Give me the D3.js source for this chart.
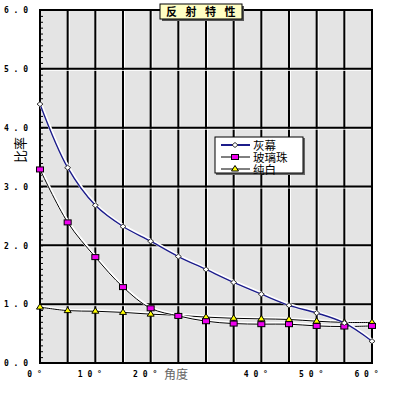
<!DOCTYPE html>
<html>
<head>
<meta charset="utf-8">
<script src="https://cdn.jsdelivr.net/npm/d3@7"></script>
<style>
  body { margin: 0; background: #fff; }
  svg { display: block; }
  .tick text { font-family: "DejaVu Sans Mono", monospace; font-weight: bold; font-size: 8px; fill: #000; }
</style>
</head>
<body>
<svg id="c" width="394" height="406"></svg>
<script>
// angle of incidence (degrees)
const angles = [0, 5, 10, 15, 20, 25, 30, 35, 40, 45, 50, 55, 60];
// gain ratio per screen type
const greyScreen = [4.40, 3.32, 2.68, 2.32, 2.07, 1.81, 1.59, 1.37, 1.17, 0.98, 0.85, 0.68, 0.37];
const glassBeads = [3.29, 2.39, 1.80, 1.29, 0.93, 0.80, 0.71, 0.67, 0.66, 0.66, 0.63, 0.62, 0.63];
const pureWhite  = [0.95, 0.89, 0.88, 0.86, 0.83, 0.81, 0.78, 0.76, 0.75, 0.74, 0.71, 0.69, 0.69];
const seriesNames = ["灰幕", "玻璃珠", "纯白"];
const yTicks = [0, 1, 2, 3, 4, 5, 6];
const xTicks = [0, 10, 20, 40, 50, 60];   // 30° slot holds the axis title

const svg = d3.select("#c");
const x = d3.scaleLinear().domain([0, 60]).range([40, 372]);
const y = d3.scaleLinear().domain([0, 6]).range([363, 10]);

// plot background
svg.append("rect")
  .attr("x", x(0)).attr("y", y(6))
  .attr("width", x(60) - x(0)).attr("height", y(0) - y(6))
  .attr("fill", "#e4e4e4");

// grid: black line with white highlight
const grid = svg.append("g");
d3.range(5, 60, 5).forEach(v => {
  grid.append("line").attr("x1", x(v) + 1.5).attr("x2", x(v) + 1.5)
    .attr("y1", y(6)).attr("y2", y(0)).attr("stroke", "#fff").attr("stroke-width", 1);
  grid.append("line").attr("x1", x(v)).attr("x2", x(v))
    .attr("y1", y(6)).attr("y2", y(0)).attr("stroke", "#000").attr("stroke-width", 2);
});
d3.range(1, 6).forEach(v => {
  grid.append("line").attr("y1", y(v) + 1.5).attr("y2", y(v) + 1.5)
    .attr("x1", x(0)).attr("x2", x(60)).attr("stroke", "#fff").attr("stroke-width", 1);
  grid.append("line").attr("y1", y(v)).attr("y2", y(v))
    .attr("x1", x(0)).attr("x2", x(60)).attr("stroke", "#000").attr("stroke-width", 2);
});

// frame
svg.append("rect")
  .attr("x", x(0)).attr("y", y(6))
  .attr("width", x(60) - x(0)).attr("height", y(0) - y(6))
  .attr("fill", "none").attr("stroke", "#000").attr("stroke-width", 2);

// minor ticks on y axis (inside)
svg.append("g")
  .attr("transform", `translate(${x(0)},0)`)
  .call(d3.axisRight(y).tickValues(d3.range(0, 6.001, 0.1)).tickSize(3).tickFormat(""))
  .call(g => g.select(".domain").remove())
  .selectAll("line").attr("stroke", "#000");

// y tick labels
svg.append("g")
  .attr("transform", `translate(${x(0) - 12},0)`)
  .call(d3.axisLeft(y).tickValues(yTicks).tickSize(0).tickPadding(0).tickFormat(d => d3.format(".1f")(d).split("").join(" ")))
  .call(g => g.select(".domain").remove())
  .selectAll("text").attr("xml:space", "preserve").attr("dy", "0.35em");

// x tick labels
svg.append("g")
  .attr("transform", `translate(-6,${y(0) + 8})`)
  .call(d3.axisBottom(x).tickValues(xTicks).tickSize(0).tickPadding(0).tickFormat(d => String(d).split("").join(" ") + " °"))
  .call(g => g.select(".domain").remove())
  .selectAll("text").attr("xml:space", "preserve");

// axis titles
svg.append("text").attr("x", 176).attr("y", 379)
  .attr("text-anchor", "middle")
  .attr("font-family", "Noto Sans CJK SC").attr("font-size", 12).attr("fill", "#666")
  .text("角度");
svg.append("text").attr("transform", "translate(25,150) rotate(-90)")
  .attr("text-anchor", "middle")
  .attr("font-family", "Noto Sans CJK SC").attr("font-size", 13).attr("fill", "#000")
  .text("比率");

// series
const line = d3.line().x(d => x(d[0])).y(d => y(d[1])).curve(d3.curveCatmullRom);
const series = [
  { name: seriesNames[0], values: greyScreen, color: "#1c1c8a", width: 1.4, marker: "diamond" },
  { name: seriesNames[1], values: glassBeads, color: "#000", width: 1, marker: "rect" },
  { name: seriesNames[2], values: pureWhite, color: "#000", width: 1, marker: "tri" }
];

function drawMarker(g, type, cx, cy) {
  if (type === "diamond") {
    g.append("path").attr("d", `M${cx - 3},${cy} L${cx},${cy - 2.5} L${cx + 3},${cy} L${cx},${cy + 2.5} Z`)
      .attr("fill", "#fff").attr("stroke", "#333").attr("stroke-width", 1);
  } else if (type === "rect") {
    g.append("rect").attr("x", cx - 3.5).attr("y", cy - 2.5).attr("width", 7).attr("height", 5)
      .attr("fill", "#ee00ee").attr("stroke", "#000").attr("stroke-width", 1);
  } else {
    g.append("path").attr("d", `M${cx - 3.5},${cy + 2} L${cx},${cy - 3.5} L${cx + 3.5},${cy + 2} Z`)
      .attr("fill", "#ffff00").attr("stroke", "#000").attr("stroke-width", 1);
  }
}

// draw lines bottom-up, then markers
const lines = svg.append("g");
const marks = svg.append("g");
series.slice().reverse().forEach(s => {
  const pts = angles.map((a, i) => [a, s.values[i]]);
  lines.append("path").attr("d", line(pts)).attr("fill", "none")
    .attr("stroke", "#fff").attr("stroke-width", s.width + 2).attr("transform", "translate(0.5,-0.5)");
  lines.append("path").attr("d", line(pts)).attr("fill", "none")
    .attr("stroke", s.color).attr("stroke-width", s.width);
  pts.forEach(p => drawMarker(marks, s.marker, x(p[0]), y(p[1])));
});

// title box
const tg = svg.append("g");
tg.append("rect").attr("x", 162).attr("y", 6).attr("width", 82).attr("height", 15).attr("fill", "#555");
tg.append("rect").attr("x", 160).attr("y", 4).attr("width", 82).attr("height", 15)
  .attr("fill", "#ffffc4").attr("stroke", "#000").attr("stroke-width", 1);
tg.append("text").attr("x", 166).attr("y", 16)
  .attr("font-family", "Noto Sans CJK SC").attr("font-weight", "bold").attr("font-size", 11)
  .attr("letter-spacing", "8.5px")
  .text("反射特性");

// legend
const lg = svg.append("g");
lg.append("rect").attr("x", 216).attr("y", 138).attr("width", 89).attr("height", 37).attr("fill", "#666");
lg.append("rect").attr("x", 215).attr("y", 137).attr("width", 88).attr("height", 36)
  .attr("fill", "#fff").attr("stroke", "#000").attr("stroke-width", 1);
series.forEach((s, i) => {
  const ly = 145 + i * 12;
  lg.append("line").attr("x1", 221).attr("x2", 250).attr("y1", ly).attr("y2", ly)
    .attr("stroke", s.color).attr("stroke-width", i === 0 ? 2 : 1);
  drawMarker(lg, s.marker, 235, ly);
  lg.append("text").attr("x", 253).attr("y", ly + 4.5)
    .attr("font-family", "Noto Sans CJK SC").attr("font-size", 11.5).attr("fill", "#000")
    .text(s.name);
});
</script>
</body>
</html>
